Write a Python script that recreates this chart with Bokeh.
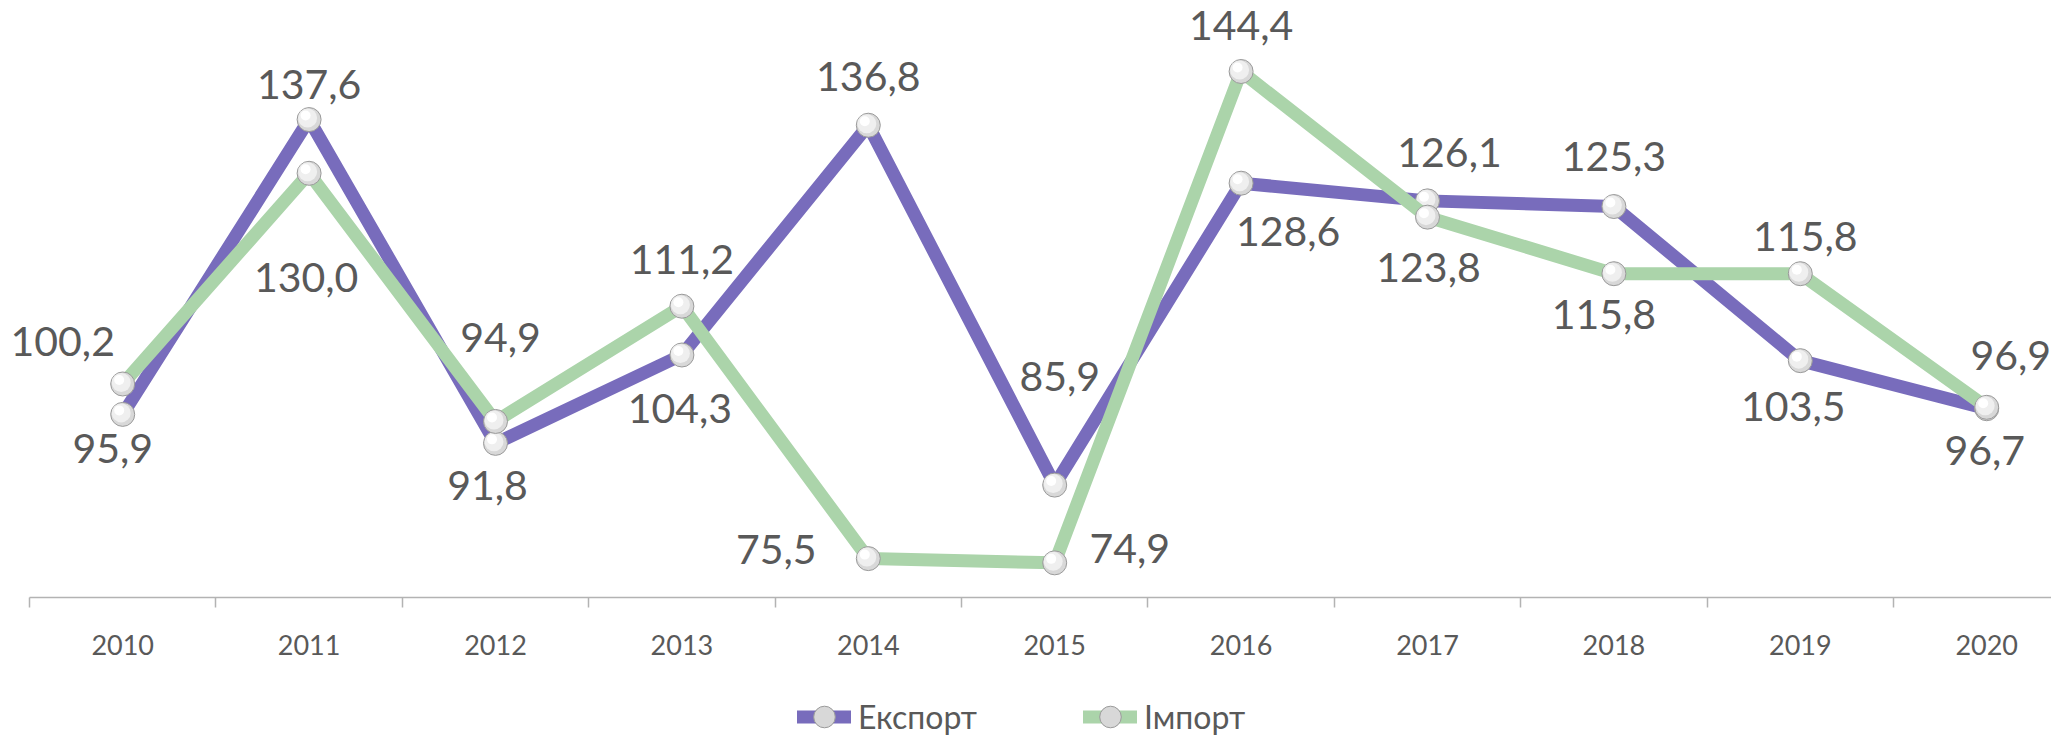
from bokeh.plotting import figure
from bokeh.models import ColumnDataSource, FixedTicker, Legend, LegendItem, Range1d
from bokeh.embed import file_html
from bokeh.resources import INLINE
from bokeh.core.properties import value

# ---- data ----
years = ["2010", "2011", "2012", "2013", "2014", "2015", "2016", "2017", "2018", "2019", "2020"]
export_vals = [95.9, 137.6, 91.8, 104.3, 136.8, 85.9, 128.6, 126.1, 125.3, 103.5, 96.7]
import_vals = [100.2, 130.0, 94.9, 111.2, 75.5, 74.9, 144.4, 123.8, 115.8, 115.8, 96.9]
series_names = ["Експорт", "Імпорт"]
axis_min = 70

# ---- label placement (screen px offsets from each point) ----
export_label_dx = [-10, 0, -8, -2, 0, 5, 47, 22, 0, -7, -2]
export_label_dy = [34, -35, 42, 54, -49, -109, 48, -48, -50, 46, 42]
import_label_dx = [-60, -3, 5, 0, -92, 75, 0, 1, -10, 5, 24]
import_label_dy = [-42, 104, -84, -47, -9, -14, -46, 50, 41, -37, -52]

# ---- style ----
PURPLE = "#786CBC"
GREEN = "#ABD4AA"
TEXT = "#595959"
AXIS = "#b3b3b3"
FONT = "Lato"

W, H = 2051, 738
px_per_x = 186.4
px_per_y = 7.07
axis_left_px = 29      # left edge of the category axis, from figure left
axis_y_px = 597        # axis line, from figure top
x0 = -0.5 - axis_left_px / px_per_x
x1 = x0 + W / px_per_x
y0 = axis_min - (H - axis_y_px) / px_per_y
y1 = axis_min + axis_y_px / px_per_y

xs = list(range(len(years)))

p = figure(width=W, height=H, output_backend="svg", toolbar_location=None,
           x_range=Range1d(x0, x1), y_range=Range1d(y0, y1),
           min_border_left=0, min_border_right=0, min_border_top=0, min_border_bottom=0,
           background_fill_color="white", border_fill_color="white")
p.outline_line_color = None
p.grid.visible = False
p.yaxis.visible = False

ax = p.xaxis[0]
ax.fixed_location = axis_min
ax.ticker = FixedTicker(ticks=xs, minor_ticks=[i - 0.5 for i in range(len(years) + 1)])
ax.major_label_overrides = {i: y for i, y in enumerate(years)}
ax.bounds = (-0.5, len(years) - 0.5)
ax.axis_line_color = AXIS
ax.axis_line_width = 1.5
ax.major_tick_line_color = None
ax.major_tick_out = 0
ax.major_tick_in = 0
ax.minor_tick_line_color = AXIS
ax.minor_tick_line_width = 1.5
ax.minor_tick_out = 10
ax.minor_tick_in = 0
ax.major_label_text_font = FONT
ax.major_label_text_font_size = "27px"
ax.major_label_text_color = TEXT
ax.major_label_standoff = 27

mx, my = -1.5 / px_per_x, 1.5 / px_per_y
hx, hy = -3.5 / px_per_x, 4.0 / px_per_y

legend_items = []
for name, vals, color, ldx, ldy in [
    (series_names[0], export_vals, PURPLE, export_label_dx, export_label_dy),
    (series_names[1], import_vals, GREEN, import_label_dx, import_label_dy),
]:
    src = ColumnDataSource(dict(x=xs, y=vals))
    ln = p.line("x", "y", source=src, line_color=color, line_width=13,
                line_join="round", line_cap="round")
    base = p.scatter("x", "y", source=src, size=24, marker="circle",
                     fill_color="#d8d8d8", line_color="#9a9a9a", line_width=1)
    p.scatter([x + mx for x in xs], [v + my for v in vals], size=19, marker="circle",
              fill_color="#efefef", line_color=None)
    p.scatter([x + hx for x in xs], [v + hy for v in vals], size=10, marker="circle",
              fill_color="white", line_color=None)
    legend_items.append(LegendItem(label=name, renderers=[ln, base]))
    lsrc = ColumnDataSource(dict(
        x=xs, y=vals,
        t=[f"{v:.1f}".replace(".", ",") for v in vals],
        dx=ldx, dy=ldy))
    p.text("x", "y", text="t", source=lsrc, x_offset="dx", y_offset="dy",
           text_align="center", text_baseline="middle",
           text_font=value(FONT), text_font_size="41px", text_color=TEXT)

legend = Legend(items=legend_items, orientation="horizontal",
                location=(797, -7), padding=0, margin=0, spacing=106,
                glyph_width=54, glyph_height=57, label_standoff=7, label_width=117,
                label_text_font=FONT, label_text_font_size="32px", label_text_color=TEXT,
                border_line_color=None, background_fill_alpha=0)
p.add_layout(legend, "center")

open("out.html", "w").write(file_html(p, INLINE))
